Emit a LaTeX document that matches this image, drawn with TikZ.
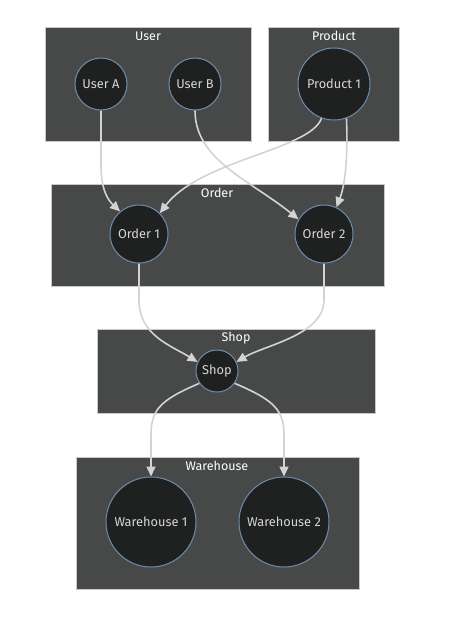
\documentclass[tikz,border=0pt]{standalone}
\usepackage{fontspec}
\setmainfont{Fira Sans}
\usetikzlibrary{arrows.meta}
\definecolor{clbg}{HTML}{474949}
\definecolor{clborder}{HTML}{C8C8C8}
\definecolor{ndbg}{HTML}{1F2020}
\definecolor{ndborder}{HTML}{6E8DAE}
\definecolor{ndtext}{HTML}{D6D6D6}
\definecolor{edgec}{HTML}{D3D3D3}
\tikzset{
  cluster/.style={draw=clborder, line width=0.8pt, fill=clbg},
  cltitle/.style={text=white, font=\fontsize{12.5}{14}\selectfont, inner sep=0pt},
  circnode/.style={circle, draw=ndborder, line width=1pt, fill=ndbg, text=ndtext,
    font=\fontsize{12.8}{14}\selectfont, inner sep=0pt},
  conn/.style={draw=edgec, line width=1.6pt, -{Triangle[length=10pt,width=9pt]}},
}
\begin{document}
\begin{tikzpicture}[x=1pt,y=-1pt]
\useasboundingbox (0,0) rectangle (450,627);
% clusters
\draw[cluster] (45,27) rectangle (251,141);
\node[cltitle] (tuser) at (148,36) {User};
\draw[cluster] (268,27) rectangle (399,141);
\node[cltitle] (tprod) at (334,36) {Product};
\draw[cluster] (51,184) rectangle (384,286);
\node[cltitle] (tord) at (217,193) {Order};
\draw[cluster] (97,329) rectangle (375,413);
\node[cltitle] (tshop) at (236,338) {Shop};
\draw[cluster] (76,457) rectangle (359,589);
\node[cltitle] (tware) at (217,466) {Warehouse};
% nodes
\node[circnode, minimum size=52pt] (ua) at (101,84) {User A};
\node[circnode, minimum size=52pt] (ub) at (195,84) {User B};
\node[circnode, minimum size=72pt] (p1) at (334,84) {Product 1};
\node[circnode, minimum size=58pt] (o1) at (139,234) {Order 1};
\node[circnode, minimum size=58pt] (o2) at (324,234) {Order 2};
\node[circnode, minimum size=42pt] (shop) at (217,371) {Shop};
\node[circnode, minimum size=90pt] (w1) at (151,522) {Warehouse 1};
\node[circnode, minimum size=90pt] (w2) at (284,522) {Warehouse 2};
% edges
\draw[conn] (ua.south) -- (101,165) .. controls (101,190) and (108,200) .. (o1.130);
\draw[conn] (ub.south) .. controls (195,160) and (250,180) .. (o2.150);
\draw[conn] (p1.250) .. controls (310,150) and (200,160) .. (o1.45);
\draw[conn] (p1.290) .. controls (348,160) and (345,185) .. (o2.65);
\draw[conn] (o1.south) -- (139,300) .. controls (139,335) and (170,345) .. (shop.155);
\draw[conn] (o2.south) -- (324,300) .. controls (324,335) and (265,345) .. (shop.25);
\draw[conn] (shop.215) .. controls (160,400) and (151,410) .. (151,435) -- (w1.north);
\draw[conn] (shop.325) .. controls (274,400) and (284,410) .. (284,435) -- (w2.north);
\end{tikzpicture}
\end{document}
